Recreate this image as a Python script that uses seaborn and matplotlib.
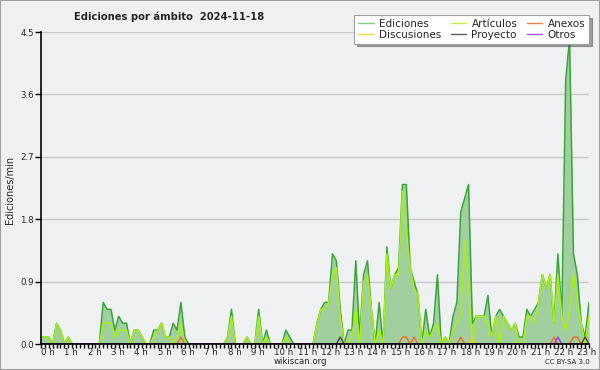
import numpy as np
import pandas as pd
import matplotlib
matplotlib.use("Agg")
import matplotlib.pyplot as plt
from matplotlib.lines import Line2D
from matplotlib.patches import Rectangle
import seaborn as sns

# one slot every 10 minutes, 00:00 -> 23:30
n_slots = 142
hours = np.arange(n_slots) / 6

# edits per minute, all namespaces
ediciones = [
    0.1, 0.1, 0.1, 0.0, 0.3, 0.2, 0.0, 0.1, 0.0, 0.0, 0.0, 0.0, 0.0, 0.0, 0.0, 0.0,
    0.6, 0.5, 0.5, 0.2, 0.4, 0.3, 0.3, 0.0, 0.2, 0.2, 0.1, 0.0,
    0.0, 0.2, 0.2, 0.3, 0.1, 0.1, 0.3, 0.2, 0.6, 0.1, 0.0,
    0.0, 0.0, 0.0, 0.0, 0.0, 0.0, 0.0, 0.0, 0.0,
    0.1, 0.5, 0.0, 0.0, 0.0, 0.1, 0.0, 0.0, 0.5, 0.0, 0.2, 0.0, 0.0, 0.0, 0.0, 0.2, 0.1,
    0.0, 0.0, 0.0, 0.0, 0.0, 0.0,
    0.3, 0.5, 0.6, 0.6, 1.3, 1.2, 0.5, 0.0, 0.2, 0.2, 1.2, 0.1, 1.0, 1.2, 0.5,
    0.0, 0.6, 0.0, 1.4, 0.8, 1.0, 1.1, 2.3, 2.3, 1.1, 0.9, 0.7, 0.0, 0.5, 0.1, 0.3,
    1.0, 0.0, 0.1, 0.0, 0.4, 0.6, 1.9, 2.1, 2.3, 0.3, 0.4, 0.4,
    0.4, 0.7, 0.1, 0.4, 0.5, 0.4, 0.3, 0.2, 0.3, 0.1, 0.1, 0.5, 0.4, 0.5, 0.6, 1.0,
    0.8, 1.0, 0.3, 1.3, 0.4, 3.8, 4.4, 1.3, 1.0, 0.3, 0.1, 0.6,
]

articulos = [
    0.1, 0.1, 0.1, 0.0, 0.3, 0.2, 0.0, 0.1, 0.0, 0.0, 0.0, 0.0, 0.0, 0.0, 0.0, 0.0,
    0.3, 0.3, 0.3, 0.1, 0.2, 0.2, 0.2, 0.0, 0.2, 0.2, 0.1, 0.0,
    0.0, 0.1, 0.2, 0.3, 0.1, 0.1, 0.0, 0.1, 0.3, 0.0, 0.0,
    0.0, 0.0, 0.0, 0.0, 0.0, 0.0, 0.0, 0.0, 0.0,
    0.1, 0.4, 0.0, 0.0, 0.0, 0.1, 0.0, 0.0, 0.4, 0.0, 0.1, 0.0, 0.0, 0.0, 0.0, 0.1, 0.0,
    0.0, 0.0, 0.0, 0.0, 0.0, 0.0,
    0.3, 0.5, 0.5, 0.6, 1.0, 1.1, 0.4, 0.0, 0.0, 0.1, 0.5, 0.0, 0.9, 1.0, 0.5,
    0.0, 0.2, 0.0, 1.3, 0.8, 1.0, 1.0, 2.2, 1.6, 1.1, 0.8, 0.7, 0.0, 0.2, 0.1, 0.2,
    0.3, 0.0, 0.1, 0.0, 0.2, 0.3, 0.4, 1.5, 0.8, 0.0, 0.4, 0.4,
    0.4, 0.3, 0.1, 0.4, 0.0, 0.4, 0.3, 0.2, 0.3, 0.0, 0.0, 0.4, 0.4, 0.3, 0.6, 1.0,
    0.8, 1.0, 0.3, 1.0, 0.4, 0.2, 0.5, 1.0, 0.6, 0.3, 0.0, 0.4,
]

# the small namespaces only show single 0.1 bumps: slot index -> value
anexos_slots = {36: 0.1, 93: 0.1, 94: 0.1, 96: 0.1, 108: 0.1, 132: 0.1, 137: 0.1, 138: 0.1}
discusiones_slots = {111: 0.1}
proyecto_slots = {77: 0.1, 140: 0.1}
otros_slots = {133: 0.1}


def spread(slots):
    vals = np.zeros(n_slots)
    for k, v in slots.items():
        vals[k] = v
    return vals


df = pd.DataFrame({
    "hora": hours,
    "ediciones": ediciones,
    "articulos": articulos,
    "anexos": spread(anexos_slots),
    "discusiones": spread(discusiones_slots),
    "proyecto": spread(proyecto_slots),
    "otros": spread(otros_slots),
})

sns.set_theme(style="white")
plt.rcParams["font.family"] = ["DejaVu Sans"]

fig = plt.figure(figsize=(6, 3.7), dpi=100, facecolor="#f0f0f0")
ax = fig.add_axes([41 / 600, 1 - 344 / 370, 548 / 600, 312 / 370])
ax.set_facecolor("#eef0f2")

ax.fill_between(df["hora"], df["ediciones"], color="#a2cfa0", lw=0, zorder=2)
sns.lineplot(data=df, x="hora", y="ediciones", color="#3aa63a", lw=1.1, ax=ax, zorder=3)
sns.lineplot(data=df, x="hora", y="articulos", color="#a8f010", lw=1.1, ax=ax, zorder=4)
sns.lineplot(data=df, x="hora", y="discusiones", color="#f0c830", lw=1.0, ax=ax, zorder=4)
sns.lineplot(data=df, x="hora", y="proyecto", color="#444444", lw=1.0, ax=ax, zorder=4)
sns.lineplot(data=df, x="hora", y="anexos", color="#ee6a2a", lw=1.0, ax=ax, zorder=5)
sns.lineplot(data=df, x="hora", y="otros", color="#8a3af0", lw=1.0, ax=ax, zorder=5)

ax.set_xlim(0, hours[-1])
ax.set_ylim(0, 4.5)

yt = np.arange(0, 4.51, 0.9)
ax.set_yticks(yt, [f"{v:.1f}" for v in yt])
ax.yaxis.grid(True, color="#c8c8c8", lw=1)
ax.xaxis.grid(False)
ax.set_xticks(range(24), [f"{h} h" for h in range(24)])
ax.set_xticks(hours, minor=True)
for lbl in ax.get_xticklabels():
    lbl.set_ha("left")
ax.tick_params(axis="x", which="both", direction="out", length=3, width=1,
               color="black", pad=0, labelsize=6.2, bottom=True)
ax.tick_params(axis="y", direction="out", length=4, width=1, color="black",
               pad=1, labelsize=6.2, left=True)
ax.set_xlabel("")
ax.set_ylabel("")
for side in ["top", "right"]:
    ax.spines[side].set_visible(False)
for side in ["left", "bottom"]:
    ax.spines[side].set_color("black")
    ax.spines[side].set_linewidth(1.2)
    ax.spines[side].set_zorder(6)

fig.text(10 / 600, 1 - 190 / 370, "Ediciones/min", rotation=90, ha="center",
         va="center", fontsize=7)
fig.text(74 / 600, 1 - 17 / 370, "Ediciones por ámbito  2024-11-18",
         fontweight="bold", fontsize=7.2, ha="left", va="center")
fig.text(0.5, 1 - 362 / 370, "wikiscan.org", ha="center", va="center", fontsize=6.2)
fig.text(590 / 600, 1 - 362 / 370, "CC BY-SA 3.0", ha="right", va="center", fontsize=5)

handles = [
    Line2D([], [], color="#7fd07f", lw=1),
    Line2D([], [], color="#f8d840", lw=1),
    Line2D([], [], color="#c4f040", lw=1),
    Line2D([], [], color="#606060", lw=1),
    Line2D([], [], color="#f08050", lw=1),
    Line2D([], [], color="#a050f0", lw=1),
]
labels = ["Ediciones", "Discusiones", "Artículos", "Proyecto", "Anexos", "Otros"]
leg = fig.legend(handles, labels, ncol=3, loc="upper right",
                 bbox_to_anchor=(594 / 600, 1 - 10 / 370), fontsize=7.5,
                 frameon=True, shadow=True, fancybox=False, facecolor="white",
                 edgecolor="#a0a0a0", framealpha=1, handlelength=1.5,
                 columnspacing=0.9, labelspacing=0.1, borderpad=0.35,
                 handletextpad=0.5)
leg.get_frame().set_linewidth(0.8)

fig.patches.append(Rectangle((0, 0), 1, 1, transform=fig.transFigure, fill=False,
                             edgecolor="#a0a0a0", lw=1.5))

fig.savefig("out.png", dpi=100, facecolor=fig.get_facecolor())
